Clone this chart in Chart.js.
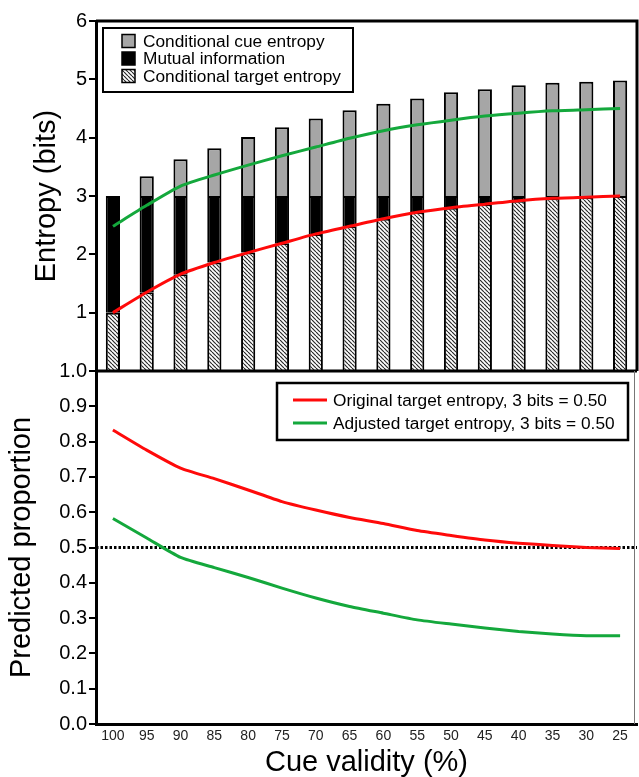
<!DOCTYPE html>
<html>
<head>
<meta charset="utf-8">
<script src="https://cdn.jsdelivr.net/npm/chart.js@4.4.1/dist/chart.umd.min.js"></script>
<style>
  html, body { margin: 0; padding: 0; background: #fff; }
  canvas { display: block; }
</style>
</head>
<body>
<canvas id="chart" width="639" height="777"></canvas>
<script>
// Cue validity (%) categories, shared by both panels
const cueValidity = ['100', '95', '90', '85', '80', '75', '70', '65', '60', '55', '50', '45', '40', '35', '30', '25'];

// Upper panel: stacked entropy components (bits)
const conditionalTargetEntropy = [1.00, 1.35, 1.66, 1.86, 2.03, 2.19, 2.35, 2.48, 2.61, 2.72, 2.80, 2.86, 2.92, 2.96, 2.98, 3.00];
const mutualInformation        = [2.00, 1.65, 1.34, 1.14, 0.97, 0.81, 0.65, 0.52, 0.39, 0.28, 0.20, 0.14, 0.08, 0.04, 0.02, 0.00];
const conditionalCueEntropy    = [0.00, 0.34, 0.63, 0.82, 1.01, 1.18, 1.33, 1.47, 1.58, 1.67, 1.78, 1.83, 1.90, 1.94, 1.96, 1.98];
// Upper panel: adjusted target entropy curve (bits)
const adjustedTargetEntropy    = [2.48, 2.84, 3.17, 3.36, 3.53, 3.69, 3.84, 3.99, 4.12, 4.22, 4.30, 4.37, 4.42, 4.46, 4.48, 4.50];

// Lower panel: predicted proportions
const originalProportion = [0.833, 0.776, 0.725, 0.695, 0.663, 0.630, 0.606, 0.585, 0.568, 0.548, 0.534, 0.521, 0.512, 0.506, 0.500, 0.497];
const adjustedProportion = [0.582, 0.527, 0.472, 0.443, 0.415, 0.385, 0.357, 0.333, 0.314, 0.295, 0.283, 0.272, 0.262, 0.255, 0.250, 0.250];
const chanceProportion = 0.5;

// Axis ranges / tick steps
const entropyRange = [0, 6];
const entropyStep = 1;
const proportionRange = [0, 1];
const proportionStep = 0.1;

const FONT = "'Liberation Sans', Arial, Helvetica, sans-serif";
Chart.defaults.font.family = FONT;
Chart.defaults.color = '#000';

const RED = '#ff0a0a';
const GREEN = '#14a83c';
const GREY = '#a6a6a6';

// Diagonal hatch used for the conditional target entropy segments
function makeHatch() {
  const s = 4;
  const c = document.createElement('canvas');
  c.width = s; c.height = s;
  const g = c.getContext('2d');
  g.fillStyle = '#fff';
  g.fillRect(0, 0, s, s);
  g.strokeStyle = '#2a2a2a';
  g.lineWidth = 1.2;
  for (let k = -1; k <= 1; k++) {
    g.beginPath();
    g.moveTo(k * s, 0);
    g.lineTo(k * s + s, s);
    g.stroke();
  }
  return g.createPattern(c, 'repeat');
}
const hatch = makeHatch();

// Frames, reference line and the two boxed legends
const panelDecor = {
  id: 'panelDecor',
  beforeDatasetsDraw(chart) {
    const { ctx, chartArea: a, scales: { yBot } } = chart;
    const y = yBot.getPixelForValue(chanceProportion);
    ctx.save();
    ctx.strokeStyle = '#000';
    ctx.lineWidth = 3;
    ctx.setLineDash([2.5, 2]);
    ctx.beginPath();
    ctx.moveTo(a.left, y);
    ctx.lineTo(a.right, y);
    ctx.stroke();
    ctx.restore();
  },
  afterDraw(chart) {
    const { ctx, chartArea: a, scales: { yTop, yBot } } = chart;
    ctx.save();
    // upper panel box
    ctx.strokeStyle = '#000';
    ctx.lineWidth = 3;
    ctx.beginPath();
    ctx.moveTo(a.left, yTop.top);
    ctx.lineTo(a.right, yTop.top);
    ctx.lineTo(a.right, yTop.bottom);
    ctx.stroke();
    // divider between the panels
    ctx.beginPath();
    ctx.moveTo(a.left, yBot.top);
    ctx.lineTo(a.right, yBot.top);
    ctx.stroke();
    // thin right edge of the lower panel
    ctx.strokeStyle = '#777';
    ctx.lineWidth = 1;
    ctx.beginPath();
    ctx.moveTo(a.right - 2.5, yBot.top);
    ctx.lineTo(a.right - 2.5, yBot.bottom);
    ctx.stroke();

    ctx.font = '17.3px ' + FONT;
    ctx.textBaseline = 'middle';
    ctx.textAlign = 'left';

    // legend for the stacked bars (top segment listed first)
    const topItems = chart.data.datasets.filter(d => d.legendPanel === 'top').reverse();
    const tb = { x: a.left + 7, y: yTop.top + 7, w: 250, h: 64 };
    ctx.fillStyle = '#fff';
    ctx.fillRect(tb.x, tb.y, tb.w, tb.h);
    ctx.strokeStyle = '#000';
    ctx.lineWidth = 2;
    ctx.strokeRect(tb.x, tb.y, tb.w, tb.h);
    topItems.forEach((d, i) => {
      const cy = tb.y + 13 + i * 17.5;
      ctx.fillStyle = d.backgroundColor;
      ctx.fillRect(tb.x + 19, cy - 6.5, 13, 13);
      ctx.strokeStyle = '#000';
      ctx.lineWidth = 1.5;
      ctx.strokeRect(tb.x + 19, cy - 6.5, 13, 13);
      ctx.fillStyle = '#000';
      ctx.fillText(d.label, tb.x + 40, cy + 1);
    });

    // legend for the proportion curves
    const botItems = chart.data.datasets.filter(d => d.legendPanel === 'bottom');
    const bw = 351, bh = 57;
    const bb = { x: a.right - 9 - bw, y: yBot.top + 12, w: bw, h: bh };
    ctx.fillStyle = '#fff';
    ctx.fillRect(bb.x, bb.y, bb.w, bb.h);
    ctx.strokeStyle = '#000';
    ctx.lineWidth = 2.5;
    ctx.strokeRect(bb.x, bb.y, bb.w, bb.h);
    botItems.forEach((d, i) => {
      const cy = bb.y + 17 + i * 23;
      ctx.strokeStyle = d.borderColor;
      ctx.lineWidth = 3;
      ctx.beginPath();
      ctx.moveTo(bb.x + 16, cy);
      ctx.lineTo(bb.x + 50, cy);
      ctx.stroke();
      ctx.fillStyle = '#000';
      ctx.fillText(d.label, bb.x + 56, cy + 1);
    });
    ctx.restore();
  }
};

const barCommon = {
  type: 'bar',
  yAxisID: 'yTop',
  stack: 'entropy',
  borderColor: '#000',
  borderWidth: 2,
  barPercentage: 0.42,
  categoryPercentage: 1.0,
  order: 2,
  legendPanel: 'top'
};

const lineCommon = {
  type: 'line',
  borderWidth: 3,
  pointRadius: 0,
  tension: 0.2,
  fill: false,
  order: 1
};

const yAxisCommon = {
  type: 'linear',
  position: 'left',
  stack: 'panels',
  grid: { display: true, drawOnChartArea: false, drawTicks: true, tickLength: 7, color: '#000', lineWidth: 2 },
  border: { display: true, color: '#000', width: 3 },
  afterFit(s) { s.width = 96; }
};

new Chart(document.getElementById('chart'), {
  data: {
    labels: cueValidity,
    datasets: [
      Object.assign({}, barCommon, { label: 'Conditional target entropy', data: conditionalTargetEntropy, backgroundColor: hatch }),
      Object.assign({}, barCommon, { label: 'Mutual information', data: mutualInformation, backgroundColor: '#000' }),
      Object.assign({}, barCommon, { label: 'Conditional cue entropy', data: conditionalCueEntropy, backgroundColor: GREY }),
      Object.assign({}, lineCommon, { label: 'Target entropy', data: conditionalTargetEntropy, yAxisID: 'yTop', stack: 'curveTarget', borderColor: RED }),
      Object.assign({}, lineCommon, { label: 'Adjusted target entropy', data: adjustedTargetEntropy, yAxisID: 'yTop', stack: 'curveAdjusted', borderColor: GREEN }),
      Object.assign({}, lineCommon, { label: 'Original target entropy, 3 bits = 0.50', data: originalProportion, yAxisID: 'yBot', borderColor: RED, legendPanel: 'bottom' }),
      Object.assign({}, lineCommon, { label: 'Adjusted target entropy, 3 bits = 0.50', data: adjustedProportion, yAxisID: 'yBot', borderColor: GREEN, legendPanel: 'bottom' })
    ]
  },
  options: {
    responsive: false,
    animation: false,
    devicePixelRatio: 1,
    layout: { padding: { top: 21, right: 2, left: 0, bottom: 0 } },
    plugins: {
      legend: { display: false },
      tooltip: { enabled: false }
    },
    scales: {
      x: {
        type: 'category',
        offset: true,
        stacked: true,
        grid: { display: false, drawTicks: false },
        border: { display: true, color: '#000', width: 3 },
        ticks: { color: '#222', font: { size: 14 }, padding: 4, maxRotation: 0, autoSkip: false },
        title: { display: true, text: 'Cue validity (%)', font: { size: 29, lineHeight: 1 }, color: '#000', padding: { top: 0, bottom: 0 } },
        afterFit(s) { s.height = 53; }
      },
      yBot: Object.assign({}, yAxisCommon, {
        stackWeight: 353,
        min: proportionRange[0],
        max: proportionRange[1],
        ticks: { stepSize: proportionStep, autoSkip: false, font: { size: 20 }, color: '#000', padding: 2,
                 callback: v => Number(v).toFixed(1) },
        title: { display: true, text: 'Predicted proportion', font: { size: 29 }, color: '#000', padding: { top: 5, bottom: 0 } }
      }),
      yTop: Object.assign({}, yAxisCommon, {
        stackWeight: 350,
        stacked: true,
        min: entropyRange[0],
        max: entropyRange[1],
        ticks: { stepSize: entropyStep, autoSkip: false, font: { size: 20 }, color: '#000', padding: 2,
                 callback: v => (v === 0 ? '' : String(v)) },
        title: { display: true, text: 'Entropy (bits)', font: { size: 29 }, color: '#000', padding: { top: 30, bottom: 0 } }
      })
    }
  },
  plugins: [panelDecor]
});
</script>
</body>
</html>
